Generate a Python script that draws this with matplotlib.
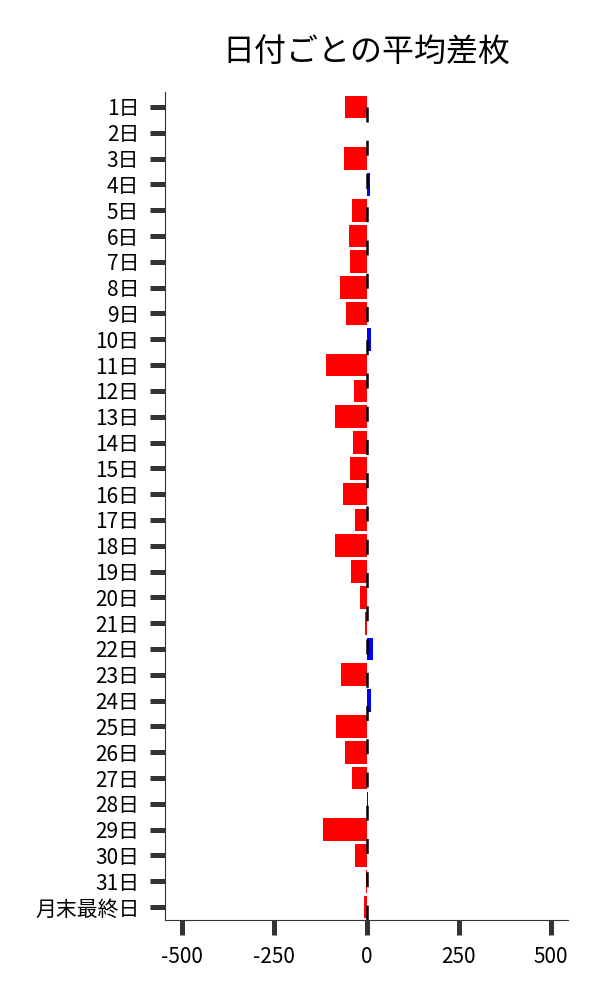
import matplotlib
matplotlib.use('Agg')
import matplotlib.pyplot as plt
import numpy as np

plt.rcParams['font.family'] = ['Noto Sans CJK JP', 'DejaVu Sans']

# day labels and average diff values
days = [str(d) + '日' for d in range(1, 32)] + ['月末最終日']
values = [-58, 1, -61, 8, -39, -47, -45, -72, -56, 12,
          -110, -34, -85, -37, -45, -64, -31, -85, -42, -18,
          -3, 17, -69, 12, -83, -58, -39, 5, -118, -31,
          -1, -7]
xticks = [-500, -250, 0, 250, 500]

colors = ['blue' if v > 0 else 'red' for v in values]

fig = plt.figure(figsize=(6, 10), dpi=100)
ax = fig.add_axes([0.275, 0.08, 0.672, 0.828])

y = np.arange(len(days))
ax.barh(y, values, height=0.88, color=colors)
ax.axvline(0, color='black', linestyle='--', linewidth=1.8, dashes=(6, 7.3))

ax.set_yticks(y)
ax.set_yticklabels(days, fontsize=15)
ax.set_xticks(xticks)
ax.set_xticklabels([str(t) for t in xticks], fontsize=15)
ax.set_xlim(-546, 546)
ax.set_ylim(len(days) - 0.5, -0.58)

ax.spines['top'].set_visible(False)
ax.spines['right'].set_visible(False)
ax.spines['left'].set_color('#333333')
ax.spines['bottom'].set_color('#333333')
ax.tick_params(axis='both', length=10.5, width=3.6, color='#333333')
ax.tick_params(axis='y', pad=8)
ax.tick_params(axis='x', pad=8)

ax.set_title('日付ごとの平均差枚', fontsize=23, pad=22)

fig.savefig('out.png', dpi=100)
